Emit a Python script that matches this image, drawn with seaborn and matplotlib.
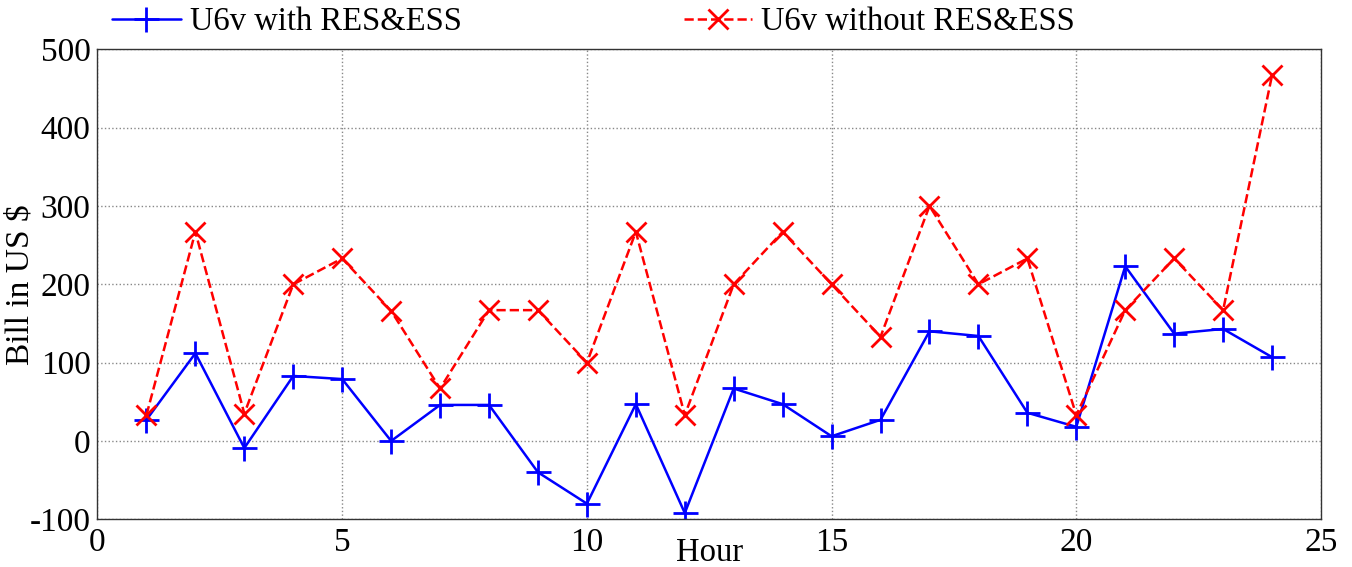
import matplotlib
matplotlib.use("Agg")
import matplotlib.pyplot as plt
import seaborn as sns
import pandas as pd

hours = list(range(1, 25))
with_res_ess = [27, 112, -9, 83, 79, 0, 46, 46, -40, -80, 47, -92,
                67, 47, 6, 27, 140, 134, 36, 18, 223, 137, 143, 107]
without_res_ess = [33, 267, 35, 200, 233, 166, 67, 167, 167, 100, 267, 33,
                   200, 267, 200, 133, 300, 200, 233, 33, 167, 233, 167, 467]
label_with = "U6v with RES&ESS"
label_without = "U6v without RES&ESS"
x_ticks = [0, 5, 10, 15, 20, 25]
y_ticks = [-100, 0, 100, 200, 300, 400, 500]

sns.set_style("white")
plt.rcParams['font.family'] = ['Liberation Serif', 'DejaVu Serif']
plt.rcParams['axes.unicode_minus'] = False
plt.rcParams['text.color'] = 'black'
plt.rcParams['axes.labelcolor'] = 'black'

df = pd.DataFrame({"Hour": hours, "with": with_res_ess, "without": without_res_ess})

W, H = 1352, 567
L, R, T, B = 97.5, 1321, 49.3, 519.3
fig = plt.figure(figsize=(W / 100, H / 100), dpi=100)
ax = fig.add_axes([L / W, 1 - B / H, (R - L) / W, (B - T) / H])

blue = (0, 0, 1)
red = (1, 0, 0)
sns.lineplot(data=df, x="Hour", y="with", ax=ax, color=blue, linewidth=1.8,
             marker='+', markersize=18, markeredgewidth=2, markeredgecolor=blue,
             label=label_with)
sns.lineplot(data=df, x="Hour", y="without", ax=ax, color=red, linewidth=1.8,
             linestyle='--', marker='x', markersize=14, markeredgewidth=2,
             markeredgecolor=red, label=label_without)

ax.set_xlim(0, 25)
ax.set_ylim(-100, 500)
ax.set_xticks(x_ticks)
ax.set_yticks(y_ticks)
ax.grid(True, linestyle=':', color='#888888', linewidth=1)
ax.tick_params(axis='both', direction='in', length=5, labelsize=24, colors='black')
ax.tick_params(axis='x', pad=6)
ax.tick_params(axis='y', pad=5)
for s in ax.spines.values():
    s.set_color('#333333')
    s.set_linewidth(1)

ax.set_xlabel("Hour", fontsize=23.5)
ax.xaxis.set_label_coords(0.5, -0.0377)
ax.set_ylabel("Bill in US $", fontsize=24)
ax.yaxis.set_label_coords(-0.051, 0.5)

leg = ax.legend(loc='center left', bbox_to_anchor=(0.012, 1.058), ncol=2, frameon=False,
                fontsize=23.5, handlelength=2.1, handletextpad=0.28, columnspacing=6.8,
                borderaxespad=0, borderpad=0)

fig.savefig("out.png", dpi=100)
